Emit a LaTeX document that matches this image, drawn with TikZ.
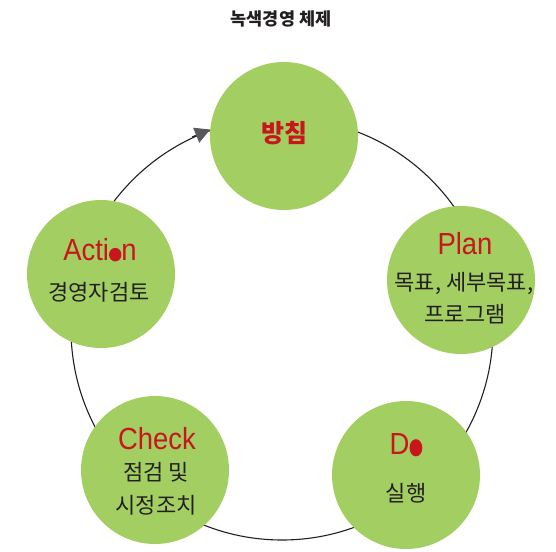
\documentclass[tikz,border=0pt]{standalone}
\usepackage{fontspec}
\usetikzlibrary{arrows.meta}
\newfontfamily\kr{Noto Sans CJK KR}
\newfontfamily\lat[FakeStretch=0.9]{Liberation Sans}
\definecolor{cgreen}{HTML}{A3CF62}
\definecolor{textred}{HTML}{C8161E}
\definecolor{textdark}{HTML}{231F20}
\definecolor{arrowgray}{HTML}{58595B}
\newcommand{\redot}[3]{\tikz[baseline=0pt]\fill[textred] (#1,#2) ellipse [x radius=#1, y radius=#3];}
\begin{document}
\begin{tikzpicture}[x=1pt,y=-1pt,
  phase/.style={circle, fill=cgreen, minimum size=148pt, inner sep=0pt},
  en/.style={font=\lat\fontsize{30.5}{30.5}\selectfont, text=textred, inner sep=0pt},
  ko/.style={font=\kr\fontsize{22}{22}\selectfont, text=textdark, inner sep=0pt},
  kobig/.style={font=\kr\bfseries\fontsize{25}{25}\selectfont, text=textred, inner sep=0pt},
  titlestyle/.style={font=\kr\bfseries\fontsize{17.5}{17.5}\selectfont, text=textdark, inner sep=0pt},
  ringline/.style={draw=textdark, line width=1.1pt},
  arrowline/.style={draw=textdark, line width=1.1pt, -{Triangle[length=15pt, width=16pt, color=arrowgray]}}]
\useasboundingbox (0,0) rectangle (556,551);
\coordinate (ringc) at (282,329);
\draw[ringline] (ringc) circle [radius=211];

\node[phase] (policy) at (284,136) {};
\node[phase] (action) at (101,274) {};
\node[phase] (plan) at (461,280) {};
\node[phase] (check) at (155,470) {};
\node[phase] (do) at (406,475) {};

\coordinate (atail) at (192,137);
\draw[arrowline] (atail) -- (policy.175);

\node[titlestyle] (title) at (281,19) {녹색경영 체제};
\node[kobig] (policytxt) at (284,133) {방침};

\node[en] (actiontxt) at (100,250) {Acti\redot{6.2pt}{6pt}{6.8pt}n};
\node[ko] (actionko) at (99,292) {경영자검토};

\node[en] (plantxt) at (465,244) {Plan};
\node[ko] (planko1) at (464,283) {목표, 세부목표,};
\node[ko] (planko2) at (465,314) {프로그램};

\node[en] (checktxt) at (157,439) {Check};
\node[ko] (checko1) at (156,472) {점검 및};
\node[ko] (checko2) at (156,505) {시정조치};

\node[en] (dotxt) at (406,445) {D\redot{6.4pt}{6.8pt}{8.6pt}};
\node[ko] (doko) at (406,493) {실행};
\end{tikzpicture}
\end{document}
